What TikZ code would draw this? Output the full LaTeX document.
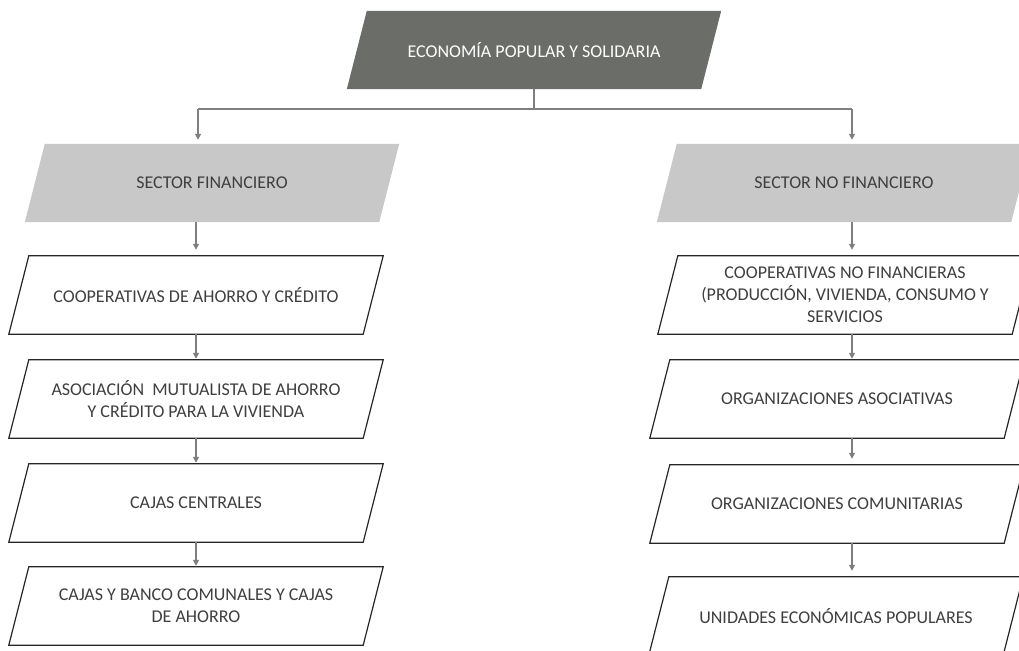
\documentclass[tikz,border=0pt]{standalone}
\usepackage{fontspec}
\setmainfont{Carlito}
\usetikzlibrary{calc,backgrounds,arrows.meta}
\definecolor{topgray}{HTML}{6B6D68}
\definecolor{secgray}{HTML}{C8C8C8}
\definecolor{txtgray}{HTML}{3F3F3F}
\definecolor{lngray}{HTML}{7F7F7F}
\newcommand\parashape[2]{\path[#2] (#1.south west) -- ($(#1.north west)+(20,0)$) -- (#1.north east) -- ($(#1.south east)-(20,0)$) -- cycle;}
\begin{document}
\begin{tikzpicture}[x=1pt,y=-1pt,
  box/.style={minimum width=374pt, minimum height=78pt, inner sep=0pt, align=center,
    font=\fontsize{18}{22}\selectfont, text=txtgray},
  topshape/.style={fill=topgray},
  secshape/.style={fill=secgray},
  plainshape/.style={fill=white, draw=black!85, line width=1.2pt},
  conn/.style={draw=lngray, line width=1.5pt},
  arr/.style={conn, -{Triangle[length=6pt,width=6pt]}}]
\useasboundingbox (0,0) rectangle (1019,650);

\node[box, text=white] (top) at (534,50) {ECONOMÍA POPULAR Y SOLIDARIA};

\node[box] (sf) at (212,183) {SECTOR FINANCIERO};
\node[box] (c1) at (196,295) {COOPERATIVAS DE AHORRO Y CRÉDITO};
\node[box] (c2) at (196,399) {ASOCIACIÓN\ \ MUTUALISTA DE AHORRO\\Y CRÉDITO PARA LA VIVIENDA};
\node[box] (c3) at (196,503) {CAJAS CENTRALES};
\node[box] (c4) at (196,606) {CAJAS Y BANCO COMUNALES Y CAJAS\\DE AHORRO};

\node[box] (snf) at (844,183) {SECTOR NO FINANCIERO};
\node[box] (n1) at (845,295) {COOPERATIVAS NO FINANCIERAS\\(PRODUCCIÓN, VIVIENDA, CONSUMO Y\\SERVICIOS};
\node[box] (n2) at (837,399) {ORGANIZACIONES ASOCIATIVAS};
\node[box] (n3) at (837,504) {ORGANIZACIONES COMUNITARIAS};
\node[box] (n4) at (836,616) {UNIDADES ECONÓMICAS POPULARES};

\begin{scope}[on background layer]
  \parashape{top}{topshape}
  \parashape{sf}{secshape}
  \parashape{snf}{secshape}
  \foreach \n in {c1,c2,c3,c4,n1,n2,n3,n4} {\parashape{\n}{plainshape}}
\end{scope}

\coordinate (lx) at (198,109);
\coordinate (rx) at (852,109);
\draw[conn] (top.south) -- (top.south |- lx);
\draw[conn] (lx) -- (rx);
\draw[arr, shorten >=4pt] (lx) -- (lx |- sf.north);
\draw[arr, shorten >=4pt] (rx) -- (rx |- snf.north);

\draw[arr, shorten >=6pt] (sf.south -| c1.north) -- (c1.north);
\draw[arr, shorten >=1pt] (c1.south) -- (c2.north);
\draw[arr, shorten >=1pt] (c2.south) -- (c3.north);
\draw[arr, shorten >=1pt] (c3.south) -- (c4.north);

\draw[arr, shorten >=6pt] (snf.south -| rx) -- (n1.north -| rx);
\draw[arr, shorten >=1pt] (n1.south -| rx) -- (n2.north -| rx);
\draw[arr, shorten >=6pt] (n2.south -| rx) -- (n3.north -| rx);
\draw[arr, shorten >=6pt] (n3.south -| rx) -- (n4.north -| rx);
\end{tikzpicture}
\end{document}
